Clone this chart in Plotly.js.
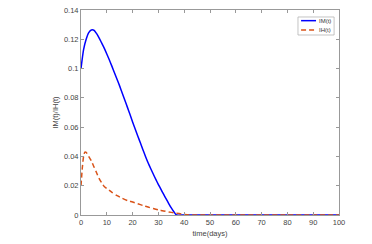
<!DOCTYPE html>
<html>
<head>
<meta charset="utf-8">
<script src="https://cdn.plot.ly/plotly-3.0.1.min.js"></script>
<style>html,body{margin:0;padding:0;background:#fff;}#chart{width:372px;height:244px;}</style>
</head>
<body>
<div id="chart"></div>
<script>
const tIM = [0,1,2,3,4,5,6,7,8,9,10,11,12,13,14,15,16,17,18,19,20,21,22,23,24,25,26,27,28,29,30,31,32,33,34,35,36,37,40,50,60,70,80,90,100];
const IM  = [0.100,0.113,0.120,0.1245,0.1263,0.1262,0.1240,0.1210,0.1175,0.1140,0.1100,0.1058,0.1015,0.0970,0.0925,0.0880,0.0832,0.0783,0.0735,0.0686,0.0635,0.0587,0.0540,0.0493,0.0446,0.0400,0.0357,0.0318,0.0280,0.0243,0.0208,0.0175,0.0142,0.0110,0.0078,0.0048,0.0022,0.0,0,0,0,0,0,0,0];
const tIH = [0,0.5,1,1.5,2,3,4,5,6,7,8,9,10,11,12,14,16,18,20,22,24,26,28,30,32,34,36,38,40,42,50,60,70,80,90,100];
const IH  = [0.020,0.032,0.040,0.043,0.0428,0.0400,0.0370,0.0330,0.0290,0.0250,0.0220,0.0195,0.0180,0.0168,0.0155,0.0132,0.0114,0.0099,0.0089,0.0077,0.0065,0.0054,0.0044,0.0035,0.0028,0.0021,0.0015,0.0010,0.0004,0,0,0,0,0,0,0];
const names = ['IM(t)','IH(t)'];
const colors = ['#0000ff','#d95319'];
const dashes = ['solid','5px,3px'];
const xTitle = 'time(days)';
const yTitle = 'IM(t)/IH(t)';

const font = {family:'Liberation Sans, Arial, sans-serif', size:7.5, color:'#444'};
const traces = [
  {x:tIM, y:IM, name:names[0], mode:'lines', line:{color:colors[0], width:1.5, dash:dashes[0], shape:'spline', smoothing:0.6}, showlegend:false},
  {x:tIH, y:IH, name:names[1], mode:'lines', line:{color:colors[1], width:1.5, dash:dashes[1], shape:'spline', smoothing:0.6}, showlegend:false}
];
const axisCommon = {
  showline:true, linecolor:'#999', linewidth:1, mirror:'ticks',
  ticks:'inside', ticklen:3, tickcolor:'#999', showgrid:false, zeroline:false,
  tickfont:font, automargin:false
};
// custom compact legend (MATLAB style)
const legY = [0.948, 0.902];
const shapes = [{type:'rect', xref:'paper', yref:'paper', x0:0.841, x1:0.981, y0:0.878, y1:0.966,
  line:{color:'#aaa', width:0.7}, fillcolor:'#fff', layer:'above'}];
const annotations = [];
names.forEach((n,i)=>{
  shapes.push({type:'line', xref:'paper', yref:'paper', x0:0.853, x1:0.911, y0:legY[i], y1:legY[i],
    line:{color:colors[i], width:1.5, dash:dashes[i]}, layer:'above'});
  annotations.push({xref:'paper', yref:'paper', x:0.915, y:legY[i], xanchor:'left', yanchor:'middle',
    text:n, showarrow:false, font:{family:font.family, size:6, color:'#333'}});
});
const layout = {
  width:372, height:244,
  margin:{l:81, r:33, t:10, b:29},
  paper_bgcolor:'#fff', plot_bgcolor:'#fff',
  showlegend:false,
  font:font,
  xaxis:Object.assign({}, axisCommon, {range:[0,100], dtick:10, tick0:0,
    title:{text:xTitle, font:font, standoff:4}}),
  yaxis:Object.assign({}, axisCommon, {range:[0,0.14], dtick:0.02, tick0:0,
    title:{text:yTitle, font:font, standoff:4}}),
  shapes:shapes, annotations:annotations
};
Plotly.newPlot('chart', traces, layout, {displayModeBar:false, staticPlot:true});
</script>
</body>
</html>
